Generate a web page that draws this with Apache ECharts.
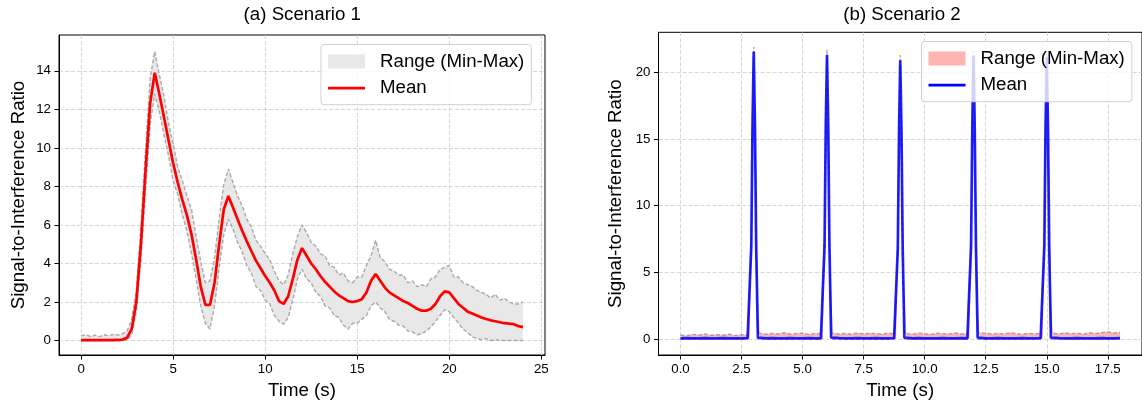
<!DOCTYPE html>
<html>
<head>
<meta charset="utf-8">
<script src="https://cdn.jsdelivr.net/npm/echarts@6/dist/echarts.min.js"></script>
<style>
html, body { margin: 0; padding: 0; background: #fff; }
#chart { width: 1142px; height: 405px; }
</style>
</head>
<body>
<div id="chart"></div>
<script>
// Scenario 1 (left panel), sampled every 0.25 s
var time1 = [0,0.25,0.5,0.75,1,1.25,1.5,1.75,2,2.25,2.5,2.75,3,3.25,3.5,3.75,4,4.25,4.5,4.75,5,5.25,5.5,5.75,6,6.25,6.5,6.75,7,7.25,7.5,7.75,8,8.25,8.5,8.75,9,9.25,9.5,9.75,10,10.25,10.5,10.75,11,11.25,11.5,11.75,12,12.25,12.5,12.75,13,13.25,13.5,13.75,14,14.25,14.5,14.75,15,15.25,15.5,15.75,16,16.25,16.5,16.75,17,17.25,17.5,17.75,18,18.25,18.5,18.75,19,19.25,19.5,19.75,20,20.25,20.5,20.75,21,21.25,21.5,21.75,22,22.25,22.5,22.75,23,23.25,23.5,23.75,24];
var mean1 = [0.02,0.02,0.02,0.02,0.02,0.02,0.02,0.02,0.03,0.05,0.15,0.6,
  2.0,5.0,8.8,12.3,13.9,12.8,11.6,10.4,9.2,8.2,7.3,6.5,
  5.5,4.2,2.8,1.85,1.85,3.0,5.0,6.8,7.5,6.9,6.3,5.7,
  5.15,4.65,4.15,3.75,3.35,3.0,2.6,2.05,1.9,2.3,3.2,4.2,
  4.8,4.4,4.0,3.7,3.35,3.05,2.8,2.55,2.35,2.2,2.05,2.0,
  2.05,2.15,2.5,3.1,3.45,3.1,2.75,2.5,2.35,2.2,2.05,1.95,
  1.8,1.65,1.55,1.55,1.65,1.9,2.3,2.55,2.5,2.2,1.9,1.7,
  1.5,1.4,1.3,1.2,1.12,1.05,1.0,0.95,0.9,0.88,0.85,0.75,
  0.7];
var max1 = [0.25,0.3,0.22,0.28,0.2,0.3,0.25,0.32,0.28,0.35,0.5,1.1,
  2.6,5.9,9.9,13.6,15.0,13.8,12.7,11.3,10.2,9.0,8.3,7.5,
  6.8,5.4,4.1,3.0,3.1,4.3,6.3,8.1,8.9,8.2,7.5,7.0,
  6.3,5.9,5.2,4.9,4.5,4.2,3.6,3.1,2.9,3.4,4.5,5.4,
  6.0,5.6,5.1,4.9,4.5,4.4,3.9,3.8,3.4,3.5,3.1,3.0,
  3.3,3.3,3.9,4.4,5.2,4.3,4.1,3.7,3.6,3.4,3.4,3.0,
  3.1,2.8,2.9,2.8,3.2,3.3,3.7,3.8,3.9,3.3,3.3,3.0,
  2.9,2.8,2.6,2.5,2.4,2.2,2.4,2.1,2.2,2.0,1.9,1.9,
  2.0];
var min1 = [0,0,0,0,0,0,0,0,0,0,0.02,0.3,
  1.5,4.2,7.8,11.2,12.8,11.9,10.7,9.6,8.3,7.6,6.5,5.7,
  4.5,3.2,1.8,0.9,0.6,1.8,3.8,5.5,6.3,5.8,5.1,4.6,
  3.9,3.5,2.8,2.6,2.1,1.9,1.3,1.0,0.85,1.2,2.1,3.2,
  3.7,3.2,3.0,2.5,2.3,1.8,1.7,1.3,1.2,0.8,0.6,0.9,
  0.9,1.1,1.3,1.8,2.0,1.7,1.5,1.1,1.0,0.8,0.75,0.5,
  0.45,0.3,0.35,0.5,0.7,1.0,1.3,1.6,1.5,1.2,0.9,0.6,
  0.4,0.2,0.1,0.05,0.1,0,0.05,0,0,0,0,0,
  0];

// Scenario 2 (right panel), denser around the pulses
var time2 = [0,0.25,0.5,0.75,1,1.25,1.5,1.75,2,2.25,2.5,2.75,
  2.83,2.9,2.95,3,3.05,3.1,3.17,
  3.25,3.5,3.75,4,4.25,4.5,4.75,5,5.25,5.5,5.75,
  5.83,5.9,5.95,6,6.05,6.1,6.17,
  6.25,6.5,6.75,7,7.25,7.5,7.75,8,8.25,8.5,8.75,
  8.83,8.9,8.95,9,9.05,9.1,9.17,
  9.25,9.5,9.75,10,10.25,10.5,10.75,11,11.25,11.5,11.75,
  11.83,11.9,11.95,12,12.05,12.1,12.17,
  12.25,12.5,12.75,13,13.25,13.5,13.75,14,14.25,14.5,14.75,
  14.83,14.9,14.95,15,15.05,15.1,15.17,
  15.25,15.5,15.75,16,16.25,16.5,16.75,17,17.25,17.5,17.75,18];
var mean2 = [0.05,0.06,0.05,0.04,0.06,0.05,0.05,0.06,0.04,0.05,0.05,0.06,
  0.1,7,16,21.55,16,7,0.1,
  0.06,0.05,0.06,0.05,0.04,0.06,0.05,0.05,0.06,0.05,0.05,
  0.1,7,16,21.3,16,7,0.1,
  0.05,0.06,0.05,0.05,0.06,0.04,0.05,0.06,0.05,0.05,0.06,
  0.1,6.8,15.6,20.9,15.6,6.8,0.1,
  0.05,0.05,0.06,0.05,0.04,0.05,0.06,0.05,0.05,0.06,0.05,
  0.1,7,15.8,21.25,15.8,7,0.1,
  0.06,0.05,0.05,0.06,0.05,0.05,0.04,0.06,0.05,0.05,0.06,
  0.1,7,15.8,21.15,15.8,7,0.1,
  0.05,0.06,0.05,0.05,0.06,0.05,0.04,0.05,0.06,0.05,0.05,0.06];
var max2 = [0.3,0.25,0.35,0.3,0.38,0.28,0.33,0.3,0.36,0.27,0.32,0.3,
  0.4,7.6,16.6,21.9,16.6,7.6,0.45,
  0.45,0.36,0.42,0.38,0.47,0.36,0.41,0.44,0.35,0.42,0.39,
  0.45,7.6,16.6,21.7,16.6,7.6,0.45,
  0.44,0.37,0.42,0.36,0.45,0.38,0.43,0.4,0.37,0.44,0.4,
  0.45,7.3,16.2,21.3,16.2,7.3,0.45,
  0.42,0.36,0.44,0.39,0.35,0.43,0.4,0.38,0.45,0.37,0.41,
  0.45,7.5,16.4,21.6,16.4,7.5,0.45,
  0.4,0.44,0.37,0.42,0.38,0.46,0.4,0.36,0.43,0.39,0.42,
  0.45,7.5,16.3,21.5,16.3,7.5,0.45,
  0.42,0.38,0.45,0.4,0.44,0.37,0.47,0.42,0.48,0.52,0.45,0.5];
var min2 = [0,0,0,0,0,0,0,0,0,0,0,0,
  0,6.4,15.4,21.2,15.4,6.4,0,
  0,0,0,0,0,0,0,0,0,0,0,
  0,6.4,15.4,20.9,15.4,6.4,0,
  0,0,0,0,0,0,0,0,0,0,0,
  0,6.2,15.0,20.5,15.0,6.2,0,
  0,0,0,0,0,0,0,0,0,0,0,
  0,6.4,15.2,20.9,15.2,6.4,0,
  0,0,0,0,0,0,0,0,0,0,0,
  0,6.4,15.2,20.8,15.2,6.4,0,
  0,0,0,0,0,0,0,0,0,0,0,0];

// axis ticks
var xTicks1 = [0, 5, 10, 15, 20, 25];
var yTicks1 = [0, 2, 4, 6, 8, 10, 12, 14];
var xTicks2 = [0, 2.5, 5, 7.5, 10, 12.5, 15, 17.5];
var yTicks2 = [0, 5, 10, 15, 20];

var titles = ['(a) Scenario 1', '(b) Scenario 2'];
var legendLabels = ['Range (Min-Max)', 'Mean'];

var FONT = '"Liberation Sans", Arial, Helvetica, sans-serif';
var LINE_ICON = 'path://M0,0H37V2.7H0Z';

var chartDom = document.getElementById('chart');
var chart = echarts.init(chartDom, null, { renderer: 'canvas' });

// value first, time second, so stacking happens on the value dimension
function pairs(t, v) {
  return t.map(function (x, i) { return [v[i], x]; });
}
function diff(hi, lo) {
  return hi.map(function (v, i) { return +(v - lo[i]).toFixed(3); });
}

function axis(grid, min, max, step, ticks, name, gap, digits) {
  return {
    type: 'value', gridIndex: grid, min: min, max: max,
    minInterval: step, maxInterval: step,
    name: name, nameLocation: 'middle', nameGap: gap,
    nameTextStyle: { fontFamily: FONT, fontSize: 18.7, color: '#000' },
    axisLine: { show: true, onZero: false, lineStyle: { color: '#000', width: 1 } },
    axisTick: { show: true, length: 4.5, customValues: ticks, lineStyle: { color: '#000', width: 1 } },
    axisLabel: {
      customValues: ticks,
      margin: 8, fontFamily: FONT, fontSize: 13.3, color: '#000',
      formatter: function (v) { return v.toFixed(digits); }
    },
    splitLine: { show: true, lineStyle: { color: '#cccccc', width: 0.8, type: [4, 2] } }
  };
}

function line(idx, name, data, extra) {
  var s = { type: 'line', name: name, xAxisIndex: idx, yAxisIndex: idx,
    dimensions: ['v', 't'], encode: { x: 't', y: 'v' },
    data: data, symbol: 'none', silent: true };
  for (var k in extra) s[k] = extra[k];
  return s;
}

function bandSeries(idx, t, lo, hi, mean, fill, edge, meanColor, names) {
  var stackId = 'band' + idx;
  return [
    line(idx, 'base' + idx, pairs(t, lo), { stack: stackId, lineStyle: { opacity: 0 } }),
    line(idx, names[0], pairs(t, diff(hi, lo)), { stack: stackId, lineStyle: { opacity: 0 },
      itemStyle: { color: fill }, areaStyle: { color: fill, opacity: 1 } }),
    line(idx, 'min' + idx, pairs(t, lo), { lineStyle: { color: edge, width: 1.4, type: [4, 2] } }),
    line(idx, 'max' + idx, pairs(t, hi), { lineStyle: { color: edge, width: 1.4, type: [4, 2] } }),
    line(idx, names[1], pairs(t, mean), { itemStyle: { color: meanColor },
      lineStyle: { color: meanColor, width: 2.7, opacity: idx === 0 ? 1 : 0.85 } })
  ];
}

function legend(left, top, names, fill, meanColor) {
  return {
    orient: 'vertical', left: left, top: top, selectedMode: false,
    data: [
      { name: names[0], icon: 'rect', itemStyle: { color: fill, borderWidth: 0 } },
      { name: names[1], icon: LINE_ICON, itemStyle: { color: meanColor, borderWidth: 0 } }
    ],
    formatter: function (n) { return n === names[0] ? legendLabels[0] : legendLabels[1]; },
    itemWidth: 37, itemHeight: 14, itemGap: 7.7,
    padding: [7.5, 7, 7, 7],
    backgroundColor: 'rgba(255,255,255,0.8)',
    borderColor: '#d0d0d0', borderWidth: 1, borderRadius: 3,
    textStyle: { fontFamily: FONT, fontSize: 18.7, color: '#000', lineHeight: 19, padding: [0, 0, 0, 10] }
  };
}

var option = {
  backgroundColor: '#fff',
  animation: false,
  textStyle: { fontFamily: FONT },
  graphic: [
    { type: 'text', x: 302.3, y: 15, silent: true,
      style: { text: titles[0], fontFamily: FONT, fontSize: 18.7, fill: '#000', align: 'center', verticalAlign: 'middle' } },
    { type: 'text', x: 902, y: 15, silent: true,
      style: { text: titles[1], fontFamily: FONT, fontSize: 18.7, fill: '#000', align: 'center', verticalAlign: 'middle' } }
  ],
  grid: [
    { left: 59, top: 35, width: 486, height: 320, show: true, borderColor: '#000', borderWidth: 1 },
    { left: 658.5, top: 32.3, width: 487, height: 322.7, show: true, borderColor: '#000', borderWidth: 1 }
  ],
  xAxis: [
    axis(0, -1.2, 25.2, 5, xTicks1, 'Time (s)', 26, 0),
    axis(1, -0.9, 18.9, 2.5, xTicks2, 'Time (s)', 26, 1)
  ],
  yAxis: [
    axis(0, -0.75, 15.86, 2, yTicks1, 'Signal-to-Interference Ratio', 31, 0),
    axis(1, -1.2, 23.0, 5, yTicks2, 'Signal-to-Interference Ratio', 33, 0)
  ],
  legend: [
    legend(321, 44.5, ['Range (Min-Max)', 'Mean'], '#e8e8e8', '#ff0000'),
    legend(921.5, 41.5, ['Range2', 'Mean2'], '#ffb3b3', '#0000ff')
  ],
  series: [].concat(
    bandSeries(0, time1, min1, max1, mean1, '#e8e8e8', '#a9a9a9', '#ff0000', ['Range (Min-Max)', 'Mean']),
    bandSeries(1, time2, min2, max2, mean2, '#ffb3b3', 'rgba(120,120,120,0.6)', '#0000ff', ['Range2', 'Mean2'])
  )
};

chart.setOption(option);
window.addEventListener('resize', function () {
  chart.resize();
});
</script>
</body>
</html>
